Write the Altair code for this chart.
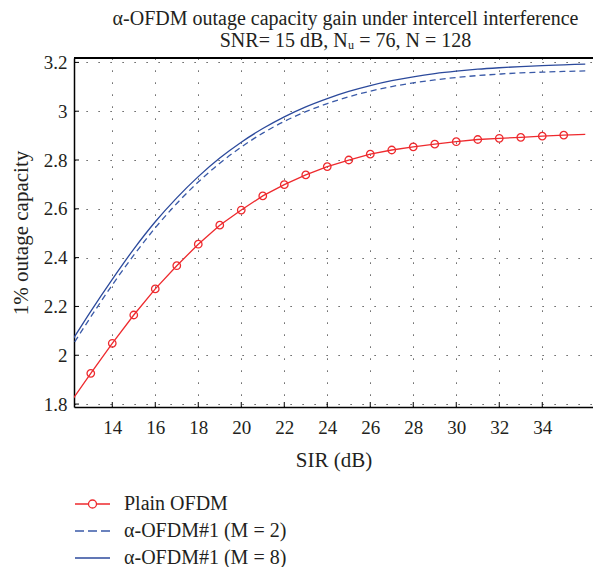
import altair as alt
import pandas as pd

# ---------------- data ----------------
sir_line = list(range(12, 37))
plain_ofdm = [1.800, 1.926, 2.049, 2.165, 2.272, 2.367, 2.455, 2.533, 2.595, 2.653,
              2.699, 2.739, 2.773, 2.800, 2.824, 2.841, 2.854, 2.865, 2.875, 2.884,
              2.889, 2.893, 2.898, 2.902, 2.905]
alpha_m2 = [2.020, 2.157, 2.288, 2.410, 2.522, 2.622, 2.710, 2.787, 2.853, 2.910,
            2.958, 2.998, 3.031, 3.059, 3.082, 3.101, 3.116, 3.128, 3.138, 3.146,
            3.152, 3.157, 3.160, 3.163, 3.165]
alpha_m8 = [2.042, 2.180, 2.311, 2.435, 2.547, 2.645, 2.732, 2.808, 2.873, 2.929,
            2.977, 3.018, 3.052, 3.081, 3.105, 3.125, 3.141, 3.154, 3.164, 3.172,
            3.178, 3.183, 3.187, 3.190, 3.193]
marker_sir = list(range(13, 36))

x_ticks = [14, 16, 18, 20, 22, 24, 26, 28, 30, 32, 34]
y_ticks = [1.8, 2.0, 2.2, 2.4, 2.6, 2.8, 3.0, 3.2]

legend_names = ["Plain OFDM", "α-OFDM#1 (M = 2)", "α-OFDM#1 (M = 8)"]
legend_colors = ["#ee2a2e", "#3a5aa8", "#2c4a9c"]
legend_paths = [
    "M-1,0H0.35M1.15,0H2.5M0.35,0A0.4,0.4 0 1,1 1.15,0A0.4,0.4 0 1,1 0.35,0",
    "M-1,0H-0.1M0.3,0H1.2M1.6,0H2.5",
    "M-1,0H2.5",
]

title_lines = ["α-OFDM outage capacity gain under intercell interference",
               "SNR= 15 dB, Nᵤ = 76, N = 128"]

# ---------------- layout / style ----------------
W, H = 519, 349
FONT = "Liberation Serif"
TXT = "#231f20"
RED = legend_colors[0]
BLUE2 = legend_colors[1]
BLUE8 = legend_colors[2]

df_plain = pd.DataFrame({"sir": sir_line, "value": plain_ofdm})
df_plain["marker"] = df_plain["sir"].isin(marker_sir)
df_m2 = pd.DataFrame({"sir": sir_line, "value": alpha_m2})
df_m8 = pd.DataFrame({"sir": sir_line, "value": alpha_m8})
df_xt = pd.DataFrame({"sir": x_ticks})
df_yt = pd.DataFrame({"value": y_ticks})
df_leg = pd.DataFrame({"series": legend_names})

xscale = alt.Scale(domain=[12.22, 36.36], nice=False, zero=False)
yscale = alt.Scale(domain=[1.788, 3.218], nice=False, zero=False)

xaxis = alt.Axis(values=x_ticks, title="SIR (dB)", grid=True, gridDash=[1.2, 10.8],
                 gridColor="black", gridOpacity=0.8, gridWidth=1, ticks=False,
                 labelPadding=11, domainColor="black", domainWidth=1.5,
                 labelFont=FONT, labelFontSize=19, labelColor=TXT,
                 titleFont=FONT, titleFontSize=21, titleFontWeight="normal",
                 titleColor=TXT, titlePadding=12, labelFlush=False)
yaxis = alt.Axis(values=y_ticks, title="1% outage capacity", grid=True, gridDash=[1.2, 10.8],
                 gridColor="black", gridOpacity=0.8, gridWidth=1, ticks=False,
                 labelPadding=7, domainColor="black", domainWidth=1.5, format="~g",
                 labelFont=FONT, labelFontSize=19, labelColor=TXT,
                 titleFont=FONT, titleFontSize=21, titleFontWeight="normal",
                 titleColor=TXT, titlePadding=12, labelFlush=False)

xenc = alt.X("sir:Q", scale=xscale, axis=xaxis)
yenc = alt.Y("value:Q", scale=yscale, axis=yaxis)

line_m8 = alt.Chart(df_m8).mark_line(color=BLUE8, strokeWidth=1.3, clip=True,
                                     interpolate="monotone").encode(x=xenc, y=yenc)
line_m2 = alt.Chart(df_m2).mark_line(color=BLUE2, strokeWidth=1.3, clip=True,
                                     strokeDash=[6, 4], interpolate="monotone").encode(x=xenc, y=yenc)
line_plain = alt.Chart(df_plain).mark_line(color=RED, strokeWidth=1.3, clip=True).encode(x=xenc, y=yenc)
pts_plain = alt.Chart(df_plain).transform_filter("datum.marker").mark_point(
    shape="circle", filled=False, color=RED, size=56, strokeWidth=1.3, opacity=1, clip=True
).encode(x=xenc, y=yenc)

xt = alt.Chart(df_xt).mark_rule(color="black", strokeWidth=1).encode(
    x=xenc, y=alt.value(H), y2=alt.value(H - 5))
yt = alt.Chart(df_yt).mark_rule(color="black", strokeWidth=1).encode(
    y=yenc, x=alt.value(0), x2=alt.value(5))
top_border = alt.Chart(pd.DataFrame({"k": [0]})).mark_rule(color="black", strokeWidth=1.8).encode(
    x=alt.value(0), x2=alt.value(W), y=alt.value(0))

leg = alt.Legend(title=None, orient="none", legendX=0, legendY=435, padding=0,
                 labelFont=FONT, labelFontSize=20, labelColor=TXT, labelLimit=500,
                 symbolSize=400, symbolStrokeWidth=1.3, labelOffset=28, rowPadding=6)
legend_layer = alt.Chart(df_leg).transform_filter("false").mark_point(
    filled=False, size=400, strokeWidth=1.3, opacity=1
).encode(
    color=alt.Color("series:N", scale=alt.Scale(domain=legend_names, range=legend_colors), legend=leg),
    shape=alt.Shape("series:N", scale=alt.Scale(domain=legend_names, range=legend_paths), legend=leg),
)

chart = alt.layer(
    line_m8, line_m2, line_plain, pts_plain, xt, yt, top_border, legend_layer
).properties(
    width=W, height=H,
    autosize=alt.AutoSizeParams(type="none"),
    padding={"left": 66, "top": 50, "right": 0, "bottom": 160},
    title=alt.TitleParams(text=title_lines, font=FONT, fontSize=20, fontWeight="normal",
                          color=TXT, anchor="middle", dx=12, offset=2, lineHeight=22),
    background="white",
).configure_view(stroke=None)

chart.save("out.html", embed_options={"renderer": "svg", "actions": False})
